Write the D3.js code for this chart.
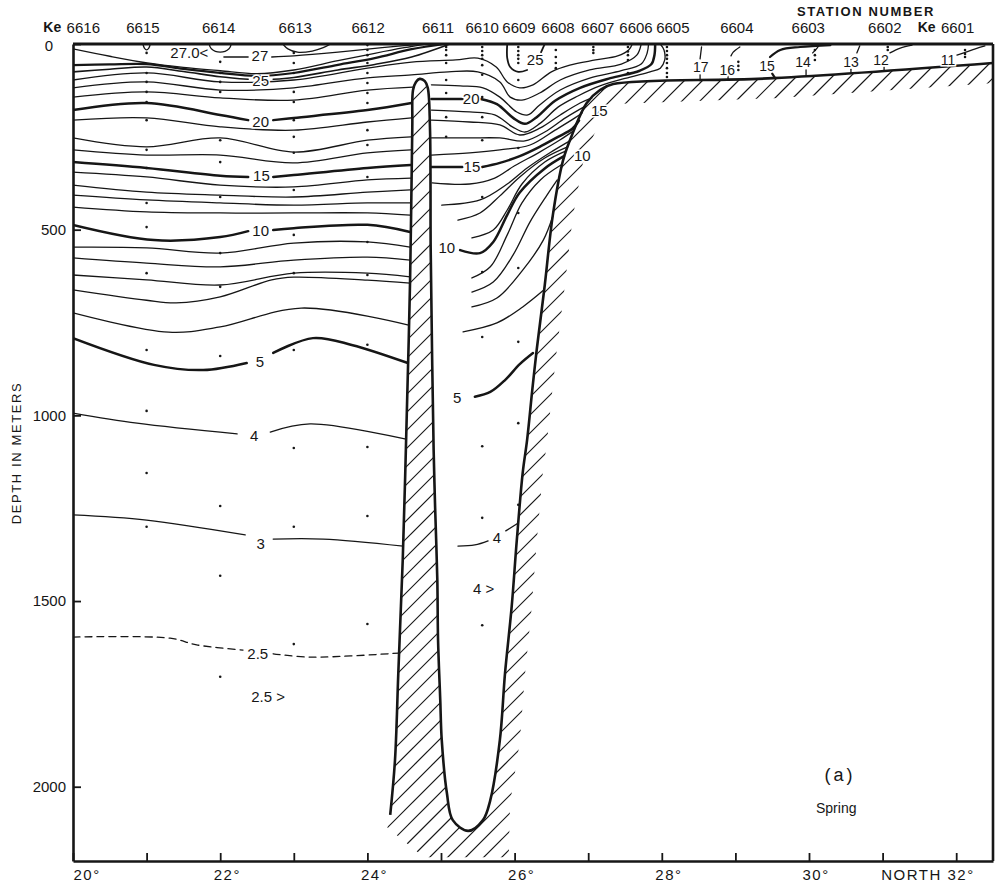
<!DOCTYPE html>
<html><head><meta charset="utf-8">
<script src="https://cdn.jsdelivr.net/npm/d3@7"></script>
<style>
body{margin:0;background:#fff;}
svg{display:block;font-family:"Liberation Sans",Arial,sans-serif;}
</style></head><body>
<svg id="chart" width="1000" height="884"></svg>
<script>
// ---------------- DATA ----------------
const stationNames = ["6616","6615","6614","6613","6612","6611","6610","6609","6608","6607","6606","6605","6604","6603","6602","6601"];
const stationLabelDeg = [20.14,20.95,21.98,23.02,24.01,24.96,25.56,26.06,26.59,27.13,27.65,28.15,29.02,29.99,31.03,32.02];
const depthTicks = [0,500,1000,1500,2000];
const latTicks = [20,21,22,23,24,25,26,27,28,29,30,31,32];

// bottom topography (deg N, depth m)
const ridgeWest = [[24.31,2076],[24.375,1928],[24.42,1694],[24.48,1390],[24.54,959],[24.58,636],[24.61,224],[24.62,124],[24.66,102]];
const ridgeTopEast = [[24.71,94],[24.78,100],[24.82,118],[24.85,224],[24.86,555],[24.88,851],[24.90,1093],[24.92,1247],[24.95,1443],[24.96,1605],[24.99,1767],[25.01,1874],[25.08,2017],[25.16,2090],[25.37,2119],[25.57,2090]];
const wallEast = [[25.67,2036],[25.80,1874],[25.87,1694],[25.96,1516],[26.03,1336],[26.11,1155],[26.17,1066],[26.24,932],[26.30,824],[26.41,649],[26.52,460],[26.66,312],[26.79,240],[26.98,159],[27.16,124],[27.34,108],[29.51,92],[32.5,51]];
const hatchBase = [[25.92,2190],[24.77,2190],[24.27,2110]];

// isotherms west of the ridge (some pass over the ridge crest)
const westLines = [
 {w:1.3, segs:[[[20,13],[20.5,33],[21.01,51],[21.5,63],[22,72],[22.5,80],[23,70],[23.6,45],[24.1,25],[24.5,10],[24.8,0]]]},
 {w:2.2, segs:[[[20,57],[20.5,55],[21,54],[21.5,67],[22,78],[22.5,86],[23,78],[23.6,56],[24.1,38],[24.6,14],[25.05,0]]]},
 {w:1.6, segs:[[[20,75],[20.5,68],[21,62],[21.5,74],[22,88],[22.38,95]],[[22.72,95],[23,90],[23.6,70],[24.1,55],[24.6,35],[25.12,0]]]},
 {w:1.3, segs:[[[22.05,35],[22.38,35]],[[22.7,35],[23.0,32],[23.6,22],[24.2,10],[24.75,0]]]},
 {w:1.3, segs:[[[20,97],[21,78],[22,102],[23,97],[24,65],[24.6,49],[25.2,43],[25.5,38],[25.75,62],[25.9,102],[26.07,118],[26.25,110],[26.5,75],[26.75,57],[27.1,43],[27.4,32],[27.55,16],[27.6,0]]]},
 {w:1.3, segs:[[[20,118],[21,102],[22,124],[23,118],[24,91],[24.6,83],[25.1,75],[25.5,75],[25.8,102],[25.94,143],[26.1,151],[26.34,132],[26.62,97],[27.02,70],[27.45,54],[27.66,30],[27.72,0]]]},
 {w:1.3, segs:[[[20,143],[21,129],[22,145],[23,151],[24,124],[24.62,116]]]},
 {w:2.5, segs:[[[20,178],[21,159],[22,191],[22.38,205]],[[22.72,205],[23,199],[24,178],[24.6,159]]]},
 {w:1.3, segs:[[[20,205],[21,199],[22,223],[23,232],[24,210],[24.6,199]]]},
 {w:1.3, segs:[[[20,253],[21,277],[22,253],[23,291],[24,259],[24.59,250]]]},
 {w:1.3, segs:[[[20,285],[21,299],[22,299],[23,320],[24,293],[24.59,285]]]},
 {w:2.5, segs:[[[20,318],[21,334],[22,355],[22.38,358]],[[22.72,358],[23,353],[24,334],[24.59,326]]]},
 {w:1.3, segs:[[[20,345],[21,358],[22,380],[23,385],[24,366],[24.59,361]]]},
 {w:1.3, segs:[[[20,380],[21,399],[22,407],[23,412],[24,399],[24.58,393]]]},
 {w:1.3, segs:[[[20,407],[21,420],[22,428],[23,434],[24,428],[24.58,428]]]},
 {w:1.3, segs:[[[20,439],[21,452],[22,455],[23,455],[24,455],[24.58,461]]]},
 {w:2.5, segs:[[[20,487],[21.1,528],[22,520],[22.38,504]],[[22.72,501],[23,496],[24,487],[24.58,506]]]},
 {w:1.3, segs:[[[20,547],[21,549],[22,563],[23,536],[24,533],[24.58,547]]]},
 {w:1.3, segs:[[[20,576],[21,590],[22,600],[23,582],[24,574],[24.58,582]]]},
 {w:1.3, segs:[[[20,622],[21,635],[22,649],[23,617],[24,617],[24.58,627]]]},
 {w:1.3, segs:[[[20,662],[21,690],[21.4,697],[22,681],[22.7,635],[23,628],[24,636],[24.58,644]]]},
 {w:1.3, segs:[[[20,724],[21.3,776],[22,762],[23.1,711],[24.56,757]]]},
 {w:2.5, segs:[[[20,792],[21.1,864],[21.77,878],[22.36,859]],[[22.72,832],[23.26,792],[23.8,811],[24.55,859]]]},
 {w:1.3, segs:[[[20,994],[20.87,1021],[22.23,1050]],[[22.68,1045],[23.22,1023],[24.525,1064]]]},
 {w:1.3, segs:[[[20,1268],[21,1282],[22.34,1322]],[[22.72,1333],[23.4,1333],[24.485,1352]]]},
 {w:1.3, dash:true, segs:[[[20,1597],[21.32,1600],[21.68,1618],[22.31,1632]],[[22.72,1642],[23.22,1651],[24.43,1640]]]}
];

// isotherms in the trough east of the ridge
const eastLines = [
 {w:1.3, segs:[[[24.87,110],[25.26,113],[25.57,118],[25.80,143],[26.03,183],[26.18,191],[26.34,164],[26.62,124],[27.02,92],[27.45,72],[27.72,54],[27.80,25],[27.82,0]]]},
 {w:2.5, segs:[[[24.87,148],[25.29,148]],[[25.54,148],[25.76,162],[25.98,199],[26.14,215],[26.30,197],[26.55,153],[26.89,118],[27.30,92],[27.70,72],[27.86,54],[27.90,30],[27.91,0]]]},
 {w:1.3, segs:[[[24.87,178],[25.39,183],[25.73,191],[25.97,223],[26.14,237],[26.35,213],[26.59,170],[26.86,140],[27.16,113],[27.57,89],[27.84,75],[27.98,65],[28.04,43],[28.03,16],[27.98,0]]]},
 {w:1.3, segs:[[[24.87,205],[25.39,210],[25.80,218],[26.07,245],[26.35,226],[26.62,191],[26.89,159],[27.05,145]]]},
 {w:1.3, segs:[[[24.87,253],[25.39,253],[25.80,253],[26.14,261],[26.41,237],[26.69,199],[26.955,168]]]},
 {w:1.3, segs:[[[24.87,299],[25.39,293],[25.80,285],[26.21,272],[26.55,232],[26.82,199],[26.92,185]]]},
 {w:2.5, segs:[[[24.87,331],[25.29,331]],[[25.56,331],[25.80,320],[26.07,302],[26.34,277],[26.59,250],[26.78,229],[26.875,206]]]},
 {w:1.3, segs:[[[24.88,374],[25.39,377],[25.73,361],[26.00,328],[26.34,291],[26.62,258],[26.80,234]]]},
 {w:1.3, segs:[[[25.01,434],[25.53,420],[25.90,377],[26.17,334],[26.48,293],[26.75,261]]]},
 {w:1.3, segs:[[[25.23,474],[25.53,455],[25.80,409],[26.07,358],[26.41,307],[26.72,277]]]},
 {w:1.3, segs:[[[25.42,522],[25.71,501],[25.90,447],[26.10,377],[26.41,318],[26.70,288]]]},
 {w:2.5, segs:[[[25.26,555],[25.53,563],[25.71,533],[25.90,460],[26.07,400],[26.41,335],[26.67,302]]]},
 {w:1.3, segs:[[[25.42,630],[25.67,600],[25.90,514],[26.10,428],[26.35,366],[26.63,326]]]},
 {w:1.3, segs:[[[25.42,668],[25.71,641],[25.98,568],[26.21,479],[26.44,407],[26.58,366]]]},
 {w:1.3, segs:[[[25.42,708],[25.76,684],[26.11,609],[26.39,528],[26.52,463]]]},
 {w:1.3, segs:[[[25.30,775],[25.76,751],[26.11,708],[26.40,662]]]},
 {w:2.5, segs:[[[25.46,950],[25.67,937],[25.87,905],[26.07,862],[26.25,832]]]},
 {w:1.3, segs:[[[25.23,1352],[25.46,1349],[25.64,1338]],[[25.88,1311],[26.05,1290]]]},
 {w:1.8, segs:[[[25.90,0],[25.90,38],[25.94,62],[26.05,75],[26.17,70]],[[26.36,22],[26.41,0]]]}
];

// isotherms over the shelf
const shelfLines = [
 {w:1.3, segs:[[[28.54,8],[28.52,40]],[[28.52,83],[28.52,99]]]},
 {w:1.3, segs:[[[29.06,8],[28.97,22],[28.94,32]],[[28.90,86],[28.90,96]]]},
 {w:2.2, segs:[[[30.29,3],[29.88,8],[29.61,16],[29.47,35]],[[29.50,80],[29.54,92]]]},
 {w:1.3, segs:[[[30.15,0],[30.11,11],[30.05,24]],[[29.96,70],[29.96,86]]]},
 {w:1.3, segs:[[[30.69,5],[30.65,24]],[[30.57,68],[30.57,77]]]},
 {w:1.3, segs:[[[31.40,3],[31.24,11],[31.10,24]],[[31.02,62],[31.02,71]]]},
 {w:1.3, segs:[[[32.39,5],[32.26,13],[32.01,30]]]}
];

// small warm cells at the surface
const surfaceLoops = [
 [[20.95,0],[20.97,11],[21.0,16],[21.03,11],[21.05,0]],
 [[21.85,0],[21.88,13],[22.0,22],[22.12,13],[22.15,0]],
 [[22.85,0],[22.92,13],[23.05,22],[23.25,19],[23.4,10],[23.5,0]]
];

const contourLabels = [
 {t:"27.0<",deg:21.58,dep:22},{t:"27",deg:22.54,dep:32},{t:"25",deg:22.55,dep:97},
 {t:"20",deg:22.55,dep:210},{t:"15",deg:22.56,dep:355},{t:"10",deg:22.55,dep:503},
 {t:"5",deg:22.54,dep:856},{t:"4",deg:22.46,dep:1053},{t:"3",deg:22.55,dep:1344},
 {t:"2.5",deg:22.51,dep:1640},{t:"2.5 >",deg:22.65,dep:1758},
 {t:"20",deg:25.41,dep:148},{t:"15",deg:25.42,dep:331},{t:"10",deg:25.08,dep:549},
 {t:"5",deg:25.22,dep:953},{t:"4",deg:25.76,dep:1330},{t:"4 >",deg:25.58,dep:1465},
 {t:"25",deg:26.28,dep:43},{t:"15",deg:27.15,dep:178},{t:"10",deg:26.92,dep:299}
];
const shelfLabels = [
 {t:"17",deg:28.53,dep:62},{t:"16",deg:28.89,dep:70},{t:"15",deg:29.43,dep:59},
 {t:"14",deg:29.92,dep:48},{t:"13",deg:30.57,dep:48},{t:"12",deg:30.98,dep:43},{t:"11",deg:31.89,dep:43}
];

// sampling depths at stations
const stationDots = [
 {deg:21.0, depths:[24,78,102,129,156,205,285,334,428,493,617,824,988,1155,1300]},
 {deg:22.0, depths:[48,78,102,129,259,318,412,563,654,840,1244,1432,1704]},
 {deg:23.0, depths:[24,51,78,129,156,205,250,293,393,514,617,824,1088,1300,1616]},
 {deg:24.0, depths:[3,16,30,51,78,105,132,159,232,272,358,533,622,810,1085,1271,1562]},
 {deg:25.07, depths:[8,16,30,51,97,132,197,250]},
 {deg:25.56, depths:[8,19,30,40,57,83,143,197,259,412,614,789,1083,1276,1565]},
 {deg:26.05, depths:[8,19,30,40,51,97,280,455,603,802,1021,1241]},
 {deg:26.56, depths:[16,35,51,65]},
 {deg:27.07, depths:[8,16,24]},
 {deg:27.54, depths:[8,20,30,43,78]},
 {deg:28.07, depths:[8,19,30,40,51,65,78,89]},
 {deg:29.04, depths:[48,59,70]},
 {deg:30.08, depths:[16,30,43]},
 {deg:31.07, depths:[8,16]},
 {deg:32.12, depths:[16,27,35]}
];

// ---------------- DRAWING ----------------
const x = d3.scaleLinear().domain([20,32.5]).range([73,993]);
const y = d3.scaleLinear().domain([0,2200]).range([44,861]);
const svg = d3.select("#chart");
const ink = "#161616";
const line = d3.line().x(d=>x(d[0])).y(d=>y(d[1])).curve(d3.curveCatmullRom.alpha(0.5));
const pline = d3.line().curve(d3.curveCatmullRom.alpha(0.5));

svg.append("defs").append("clipPath").attr("id","plotClip")
  .append("rect").attr("x",73).attr("y",44).attr("width",920).attr("height",817);

// terrain hatch
const profile = ridgeWest.concat(ridgeTopEast, wallEast);
const profPx = profile.map(d=>[x(d[0]),y(d[1])]);
const wallPx = wallEast.map(d=>[x(d[0]),y(d[1])]);
function offsetPts(pts, dist){
  return pts.map((p,i)=>{
    const a = pts[Math.max(0,i-1)], b = pts[Math.min(pts.length-1,i+1)];
    let dx=b[0]-a[0], dy=b[1]-a[1]; const L=Math.hypot(dx,dy); dx/=L; dy/=L;
    return [p[0]-dy*dist, p[1]+dx*dist];
  });
}
const off = offsetPts(wallPx, 20).reverse();
const basePx = hatchBase.map(d=>[x(d[0]),y(d[1])]);
const clipD = pline(profPx) + off.concat(basePx).map(p=>"L"+p[0]+","+p[1]).join("") + "Z";
svg.select("defs").append("clipPath").attr("id","hatchClip").append("path").attr("d",clipD);

const hg = svg.append("g").attr("clip-path","url(#hatchClip)");
const hatchGap = 18;
const cs = d3.range(73+44, 993+861, hatchGap);
hg.selectAll("line").data(cs).join("line")
  .attr("x1",c=>c-861).attr("y1",861).attr("x2",c=>c-44).attr("y2",44)
  .attr("stroke",ink).attr("stroke-width",1.2);

// contours
const cg = svg.append("g").attr("clip-path","url(#plotClip)").attr("fill","none").attr("stroke",ink)
  .attr("stroke-linecap","round").attr("stroke-linejoin","round");
[westLines, eastLines, shelfLines].forEach(group=>{
  group.forEach(iso=>{
    iso.segs.forEach(seg=>{
      cg.append("path").attr("d",line(seg)).attr("stroke-width",iso.w)
        .attr("stroke-dasharray",iso.dash?"7,5":null);
    });
  });
});
surfaceLoops.forEach(l=>cg.append("path").attr("d",line(l)).attr("stroke-width",1.3));

// terrain outline
svg.append("path").attr("d",line(profile)).attr("fill","none").attr("stroke",ink)
  .attr("stroke-width",2.6).attr("stroke-linejoin","round").attr("clip-path","url(#plotClip)");

// station sampling dots
const dg = svg.append("g").attr("fill",ink);
stationDots.forEach(s=>{
  dg.selectAll(null).data(s.depths).join("circle")
    .attr("cx",x(s.deg)).attr("cy",d=>y(d)).attr("r",1.3);
});

// contour labels
const lg = svg.append("g").attr("fill",ink).attr("text-anchor","middle").attr("dominant-baseline","central")
  .attr("stroke","#fff").attr("stroke-width",3).attr("paint-order","stroke");
lg.selectAll("text.c").data(contourLabels).join("text").attr("class","c")
  .attr("x",d=>x(d.deg)).attr("y",d=>y(d.dep)).attr("font-size",15).text(d=>d.t);
lg.selectAll("text.s").data(shelfLabels).join("text").attr("class","s")
  .attr("x",d=>x(d.deg)).attr("y",d=>y(d.dep)).attr("font-size",14).text(d=>d.t);

// axes
const yAxis = d3.axisLeft(y).tickValues(depthTicks).tickSizeInner(-8).tickSizeOuter(0).tickPadding(7)
  .tickFormat(d3.format("d"));
const ya = svg.append("g").attr("transform","translate(73,0)").call(yAxis);
ya.select(".domain").attr("stroke",ink).attr("stroke-width",2.6);
ya.selectAll(".tick line").attr("stroke",ink).attr("stroke-width",1.8);
ya.selectAll(".tick text").attr("font-size",15).attr("fill",ink).attr("font-family","Liberation Sans, Arial, sans-serif");
ya.selectAll(".tick").filter(d=>d===0).select("text").attr("x",-20).attr("dy","0.4em");

const xAxis = d3.axisBottom(x).tickValues(latTicks).tickSizeInner(-8).tickSizeOuter(0).tickPadding(8)
  .tickFormat(d=> d===32 ? "NORTH 32°" : (d%2===0 ? d+"°" : ""));
const xa = svg.append("g").attr("transform","translate(0,861)").call(xAxis);
xa.select(".domain").attr("stroke",ink).attr("stroke-width",2.6);
xa.selectAll(".tick line").attr("stroke",ink).attr("stroke-width",1.8);
xa.selectAll(".tick text").attr("font-size",15).attr("fill",ink).attr("letter-spacing",1.5)
  .attr("font-family","Liberation Sans, Arial, sans-serif")
  .attr("text-anchor",d=> d===32 ? "end" : "start")
  .attr("x",d=> d===32 ? 18 : (d===20 ? 0 : -7));

// frame top & right
svg.append("line").attr("x1",73).attr("x2",993).attr("y1",44).attr("y2",44).attr("stroke",ink).attr("stroke-width",3.2);
svg.append("line").attr("x1",993).attr("x2",993).attr("y1",44).attr("y2",861).attr("stroke",ink).attr("stroke-width",2.6);

// station labels
const sg = svg.append("g").attr("fill",ink).attr("font-size",15).attr("text-anchor","middle");
sg.selectAll("text.n").data(stationNames).join("text").attr("class","n")
  .attr("x",(d,i)=>x(stationLabelDeg[i])).attr("y",33).text(d=>d);
sg.selectAll("text.k").data([stationLabelDeg[0], stationLabelDeg[stationLabelDeg.length-1]]).join("text").attr("class","k")
  .attr("x",d=>x(d)-31).attr("y",32).attr("font-size",14).attr("font-weight","bold").text("Ke");
svg.append("text").attr("x",866).attr("y",16).attr("text-anchor","middle").attr("font-size",13)
  .attr("font-weight","bold").attr("letter-spacing",1.6).attr("fill",ink).text("STATION NUMBER");

// axis title
svg.append("text").attr("transform","translate(21,453) rotate(-90)").attr("text-anchor","middle")
  .attr("font-size",13).attr("letter-spacing",1.6).attr("fill",ink).text("DEPTH IN METERS");

// panel label
svg.append("text").attr("x",x(30.42)).attr("y",y(1968)).attr("text-anchor","middle").attr("dominant-baseline","central")
  .attr("font-size",18).attr("letter-spacing",3).attr("fill",ink).text("(a)");
svg.append("text").attr("x",x(30.37)).attr("y",y(2057)).attr("text-anchor","middle").attr("dominant-baseline","central")
  .attr("font-size",14).attr("fill",ink).text("Spring");
</script></body></html>
